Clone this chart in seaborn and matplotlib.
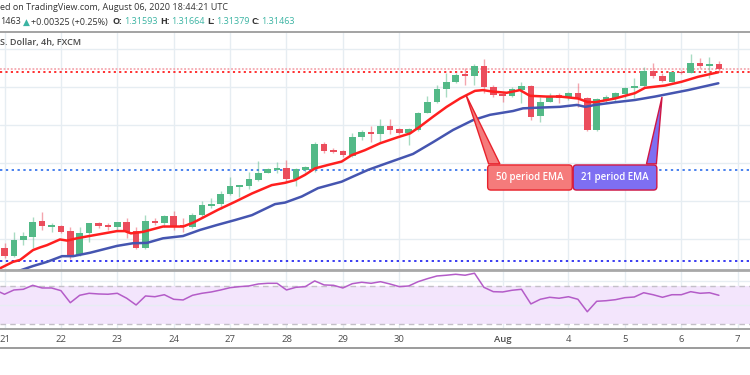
import numpy as np
import pandas as pd
import matplotlib
matplotlib.use("Agg")
import matplotlib.pyplot as plt
import seaborn as sns
from matplotlib.patches import FancyBboxPatch, Polygon
from matplotlib.lines import Line2D

# ---------------- data ----------------
open_ = [1.2675, 1.2655, 1.2696, 1.2705, 1.2746, 1.2732, 1.2734, 1.2720, 1.2658, 1.2716,
         1.2741, 1.2736, 1.2730, 1.2744, 1.2720, 1.2675, 1.2747, 1.2742, 1.2761, 1.2735,
         1.2732, 1.2762, 1.2786, 1.2791, 1.2818, 1.2837, 1.2839, 1.2854, 1.2874, 1.2881,
         1.2885, 1.2856, 1.2881, 1.2883, 1.2949, 1.2933, 1.2931, 1.2918, 1.2968, 1.2980,
         1.2975, 1.2997, 1.2988, 1.2977, 1.2986, 1.3032, 1.3061, 1.3094, 1.3113, 1.3133,
         1.3128, 1.3154, 1.3100, 1.3081, 1.3076, 1.3091, 1.3103, 1.3023, 1.3061, 1.3078,
         1.3069, 1.3083, 1.3071, 1.2986, 1.3065, 1.3071, 1.3081, 1.3096, 1.3103, 1.3141,
         1.3128, 1.3113, 1.3139, 1.3137, 1.3163, 1.3154, 1.31593]
high = [1.2689, 1.2718, 1.2718, 1.2756, 1.2769, 1.2742, 1.2736, 1.2732, 1.2732, 1.2742,
        1.2745, 1.2742, 1.2745, 1.2754, 1.2732, 1.2762, 1.2754, 1.2762, 1.2773, 1.2754,
        1.2768, 1.2799, 1.2806, 1.2826, 1.2862, 1.2842, 1.2876, 1.2905, 1.2885, 1.2901,
        1.2907, 1.2885, 1.2891, 1.2955, 1.2955, 1.2938, 1.2933, 1.2979, 1.2986, 1.2997,
        1.3014, 1.3014, 1.2991, 1.2991, 1.3034, 1.3076, 1.3104, 1.3137, 1.3137, 1.3148,
        1.3160, 1.3172, 1.3104, 1.3085, 1.3098, 1.3113, 1.3105, 1.3074, 1.3083, 1.3083,
        1.3087, 1.3109, 1.3074, 1.3071, 1.3078, 1.3087, 1.3100, 1.3124, 1.3153, 1.3162,
        1.3135, 1.3139, 1.3144, 1.3185, 1.3175, 1.3179, 1.31664]
low = [1.2649, 1.2653, 1.2683, 1.2676, 1.2723, 1.2718, 1.2716, 1.2647, 1.2654, 1.2692,
       1.2727, 1.2723, 1.2723, 1.2701, 1.2672, 1.2672, 1.2736, 1.2732, 1.2723, 1.2718,
       1.2728, 1.2754, 1.2780, 1.2777, 1.2815, 1.2809, 1.2830, 1.2853, 1.2872, 1.2872,
       1.2850, 1.2839, 1.2876, 1.2876, 1.2925, 1.2925, 1.2916, 1.2916, 1.2960, 1.2955,
       1.2955, 1.2976, 1.2975, 1.2947, 1.2984, 1.3030, 1.3058, 1.3074, 1.3109, 1.3104,
       1.3104, 1.3083, 1.3074, 1.3061, 1.3073, 1.3056, 1.3012, 1.3008, 1.3059, 1.3056,
       1.3065, 1.3047, 1.2983, 1.2983, 1.3056, 1.3061, 1.3069, 1.3069, 1.3100, 1.3122,
       1.3112, 1.3112, 1.3133, 1.3135, 1.3148, 1.3122, 1.31379]
close = [1.2655, 1.2697, 1.2707, 1.2745, 1.2733, 1.2733, 1.2718, 1.2657, 1.2716, 1.2741,
         1.2734, 1.2730, 1.2743, 1.2718, 1.2675, 1.2747, 1.2742, 1.2761, 1.2734, 1.2732,
         1.2762, 1.2789, 1.2791, 1.2818, 1.2839, 1.2841, 1.2856, 1.2874, 1.2883, 1.2885,
         1.2857, 1.2883, 1.2888, 1.2949, 1.2931, 1.2929, 1.2920, 1.2968, 1.2980, 1.2975,
         1.2997, 1.2986, 1.2977, 1.2988, 1.3032, 1.3061, 1.3094, 1.3113, 1.3131, 1.3129,
         1.3154, 1.3100, 1.3078, 1.3076, 1.3093, 1.3103, 1.3021, 1.3061, 1.3076, 1.3069,
         1.3083, 1.3069, 1.2986, 1.3067, 1.3074, 1.3083, 1.3097, 1.3103, 1.3141, 1.3128,
         1.3115, 1.3138, 1.3135, 1.3163, 1.3155, 1.3160, 1.31463]

ema_red_x = [-0.48, 0.9, 1.65, 2.18, 3.03, 3.78, 4.52, 5.9, 6.65, 7.7,
             8.8, 10.16, 11.97, 12.8, 13.45, 14.73, 15.8, 16.86, 18.99, 20.05,
             21.0, 22.71, 24.52, 26.33, 28.43, 29.84, 30.9, 31.97, 33.03, 34.41,
             35.87, 36.94, 38.35, 39.95, 41.72, 43.14, 44.2, 45.59, 47.04, 48.46,
             49.17, 50.05, 50.9, 51.97, 53.43, 54.84, 55.9, 57.68, 59.1, 61.0,
             62.0, 62.82, 64.95, 67.07, 68.14, 70.27, 72.04, 73.78, 75.94]
ema_red_y = [1.2622, 1.2639, 1.2644, 1.2654, 1.2670, 1.2677, 1.2683, 1.2698, 1.2695, 1.2701,
             1.2706, 1.2712, 1.2720, 1.2720, 1.2714, 1.2718, 1.2725, 1.2732, 1.2732, 1.2742,
             1.2754, 1.2776, 1.2797, 1.2819, 1.2841, 1.2847, 1.2854, 1.2868, 1.2885, 1.2894,
             1.2903, 1.2920, 1.2933, 1.2951, 1.2966, 1.2977, 1.2995, 1.3021, 1.3047, 1.3069,
             1.3078, 1.3089, 1.3091, 1.3087, 1.3084, 1.3091, 1.3076, 1.3074, 1.3074, 1.3069,
             1.3060, 1.3059, 1.3069, 1.3083, 1.3097, 1.3103, 1.3113, 1.3126, 1.3138]
ema_blue_x = [0.6, 1.97, 3.03, 4.52, 6.12, 7.29, 9.1, 11.97, 13.67, 15.16,
              16.86, 18.99, 20.8, 22.6, 24.52, 26.33, 28.78, 29.84, 31.62, 33.35,
              35.87, 36.94, 38.67, 40.48, 43.46, 45.59, 47.71, 49.84, 51.65, 54.1,
              55.16, 56.97, 59.1, 60.9, 61.8, 62.82, 64.95, 67.07, 69.2, 72.71, 75.94]
ema_blue_y = [1.2608, 1.2619, 1.2628, 1.2639, 1.2654, 1.2654, 1.2663, 1.2681, 1.2688, 1.2689,
              1.2701, 1.2707, 1.2723, 1.2736, 1.2749, 1.2762, 1.2791, 1.2795, 1.2811, 1.2833,
              1.2850, 1.2862, 1.2881, 1.2897, 1.2923, 1.2954, 1.2986, 1.3012, 1.3026, 1.3036,
              1.3043, 1.3045, 1.3047, 1.3052, 1.3047, 1.3052, 1.3059, 1.3065, 1.3074, 1.3091, 1.3109]

rsi = [65.8, 61.3, 65.8, 66.5, 70.7, 67.9, 67.9, 65.1, 52.4, 60.2, 62.3,
       61.6, 61.3, 62.3, 57.1, 50.0, 59.5, 58.7, 60.8, 56.0, 55.3,
       60.2, 62.3, 63.7, 65.8, 68.2, 69.3, 70.0, 72.1, 72.8, 72.8,
       65.8, 68.6, 69.3, 75.3, 71.1, 70.7, 67.9, 72.4, 73.9, 72.8,
       74.5, 72.1, 69.3, 70.0, 74.5, 77.7, 80.5, 81.3, 82.3, 81.3,
       83.4, 68.6, 64.0, 63.7, 65.5, 66.5, 51.1, 56.0, 58.1, 57.1,
       58.7, 56.0, 42.9, 53.9, 54.5, 55.6, 57.7, 58.4, 62.9, 60.8,
       58.1, 60.8, 60.8, 64.0, 62.3, 62.9, 60.2]
rsi_x = list(range(-1, 77))

day_ticks = [0, 6, 12, 18, 24, 30, 36, 42, 53, 60, 66, 72, 78]
day_labels = ['21', '22', '23', '24', '27', '28', '29', '30', 'Aug', '4', '5', '6', '7']

price_line = 1.31463
red_level = 1.3139
blue_levels = [1.2881, 1.2642]
price_grid = [1.27, 1.28, 1.29, 1.30, 1.31, 1.32]

callout_labels = ['50 period EMA', '21 period EMA']
callout_tip_x = [49.1, 69.95]
callout_tip_y = [1.3078, 1.3073]
callout_box_x0 = [51.4, 60.5]
callout_box_x1 = [60.4, 69.4]
callout_base_x = [(51.5, 52.7), (68.3, 69.35)]
callout_box_y = (1.2828, 1.2894)
callout_fill = ['#f57b7b', '#7e6ff2']
callout_edge = ['#e8222c', '#cf1744']

# ---------------- figure ----------------
sns.set_theme(style="white")
plt.rcParams['font.family'] = ['Open Sans', 'DejaVu Sans']

W, H = 750, 375
fig = plt.figure(figsize=(7.5, 3.75), dpi=100)
fig.patch.set_facecolor('white')

def fy(y):
    return 1 - y / H

ax = fig.add_axes([0, fy(270), 1, (270 - 31.7) / H])
axr = fig.add_axes([0, fy(328), 1, (328 - 270) / H])

XL = (-0.479, 79.31)
for a in (ax, axr):
    a.set_xlim(*XL)
    for s in a.spines.values():
        s.set_visible(False)
    a.set_xticks([])
    a.set_yticks([])
    a.set_facecolor('white')

grid_c = '#e6edf2'
ax.set_ylim(1.26176, 1.32447)
axr.set_ylim(25.8, 86.8)

for t in day_ticks:
    ax.axvline(t, color=grid_c, lw=1.0, zorder=0)
    axr.axvline(t, color=grid_c, lw=1.0, zorder=0)
for g in price_grid:
    ax.axhline(g, color=grid_c, lw=1.0, zorder=0)

# horizontal levels
ax.axhline(price_line, color='#f4a9b0', lw=1.3, ls=(0, (1, 1)), zorder=1)
ax.axhline(red_level, color='#ff2020', lw=1.3, ls=(0, (1.2, 1.8)), zorder=1)
ax.axhline(blue_levels[0], color='#4b82ee', lw=1.4, ls=(0, (1.2, 1.8)), zorder=1)
ax.axhline(blue_levels[1], color='#3a3cf2', lw=1.4, ls=(0, (1.2, 1.8)), zorder=1)

# candles
df = pd.DataFrame({'o': open_, 'h': high, 'l': low, 'c': close})
df['i'] = np.arange(len(df))
up_c, dn_c = '#53b987', '#eb4d5c'
for _, r in df.iterrows():
    col = up_c if r.c >= r.o else dn_c
    ax.vlines(r.i, r.l, r.h, color=col, lw=1.0, alpha=0.5, zorder=2)
    body = max(abs(r.c - r.o), 0.00028)
    ax.bar(r.i, body, bottom=min(r.o, r.c), width=0.72, color=col, lw=0, zorder=3)

# EMAs
sns.lineplot(x=ema_red_x, y=ema_red_y, ax=ax, color='#ff1f1f', lw=1.8,
             sort=False, estimator=None, zorder=4)
sns.lineplot(x=ema_blue_x, y=ema_blue_y, ax=ax, color='#4555b0', lw=1.8,
             sort=False, estimator=None, zorder=4)

# callouts
asp = (1 / 3800) / (1 / 9.4)
for k in range(2):
    y0, y1 = callout_box_y
    tri = Polygon([(callout_tip_x[k], callout_tip_y[k]),
                   (callout_base_x[k][0], y1 + 0.0003),
                   (callout_base_x[k][1], y1 + 0.0003)],
                  closed=True, facecolor=callout_fill[k], edgecolor=callout_edge[k],
                  lw=1.0, zorder=6)
    ax.add_patch(tri)
    box = FancyBboxPatch((callout_box_x0[k], y0), callout_box_x1[k] - callout_box_x0[k], y1 - y0,
                         boxstyle='round,pad=0,rounding_size=0.35', mutation_aspect=asp,
                         facecolor=callout_fill[k], edgecolor=callout_edge[k], lw=1.0, zorder=7)
    ax.add_patch(box)
    ax.text((callout_box_x0[k] + callout_box_x1[k]) / 2, (y0 + y1) / 2, callout_labels[k],
            color='white', fontsize=7, fontweight='semibold', ha='center', va='center', zorder=8)

# RSI panel
axr.axhspan(30, 70, color='#f3e5fc', zorder=0, lw=0)
for g in (50, 75):
    axr.axhline(g, color=grid_c, lw=1.0, zorder=0.5)
axr.axhline(70, color='#c4c0c8', lw=1.0, ls=(0, (4, 3)), zorder=1)
axr.axhline(30, color='#c4c0c8', lw=1.0, ls=(0, (4, 3)), zorder=1)
sns.lineplot(x=rsi_x, y=rsi, ax=axr, color='#b45cc8', lw=1.1,
             sort=False, estimator=None, zorder=3)

# separators
for y, c, lw in [(31.7, '#9c9c9c', 1.3), (270, '#a8a8a8', 2.0), (328.5, '#8a8a8a', 1.1), (348, '#8a8a8a', 1.2)]:
    fig.add_artist(Line2D([0, 1], [fy(y), fy(y)], color=c, lw=lw, transform=fig.transFigure))

# date labels
for t, lab in zip(day_ticks, day_labels):
    xf = (4.5 + 9.4 * t) / W
    fig.text(xf, fy(340), lab, ha='center', va='center', fontsize=6.8, color='#4d4d4d',
             fontweight='semibold' if lab == 'Aug' else 'normal')

# header texts
hc = '#333333'
teal = '#3cb4a3'
fs = 6.5
fig.text(0 / W, fy(8), 'ed on TradingView.com, August 06, 2020 18:44:21 UTC',
         ha='left', va='center', fontsize=fs, color=hc)
pieces = [(0, '1463', hc, 'normal'), (23, '▲', teal, 'normal'),
          (31, '+0.00325 (+0.25%)', hc, 'normal'),
          (112, 'O:', hc, 'bold'), (124, '1.31593', teal, 'normal'),
          (160, 'H:', hc, 'bold'), (171, '1.31664', teal, 'normal'),
          (207, 'L:', hc, 'bold'), (216, '1.31379', teal, 'normal'),
          (251, 'C:', hc, 'bold'), (261, '1.31463', teal, 'normal')]
for x, s, c, w in pieces:
    fig.text(x / W, fy(22), s, ha='left', va='center', fontsize=fs, color=c, fontweight=w,
             family=['Open Sans', 'DejaVu Sans'])
fig.text(0 / W, fy(43), 'S. Dollar, 4h, FXCM', ha='left', va='center', fontsize=fs,
         color='#4a4a4a', fontweight='semibold')

fig.savefig('out.png', dpi=100, facecolor='white')
